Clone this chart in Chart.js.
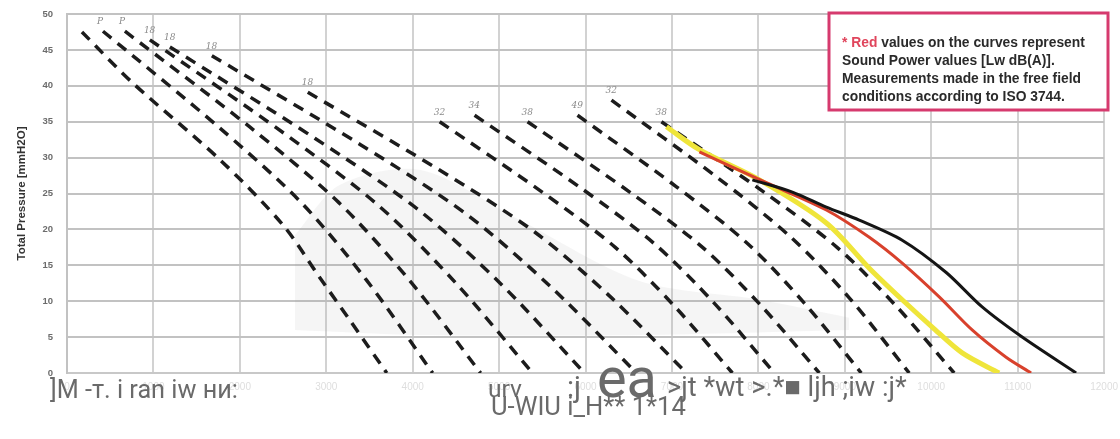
<!DOCTYPE html>
<html>
<head>
<meta charset="utf-8">
<script src="https://cdn.jsdelivr.net/npm/chart.js@4.4.1/dist/chart.umd.min.js"></script>
<style>
  html, body { margin: 0; padding: 0; background: #fff; }
  #fanChart { display: block; }
</style>
</head>
<body>
<canvas id="fanChart" width="1120" height="439"></canvas>
<script>
// axis ticks
const flowTicks = [0, 1000, 2000, 3000, 4000, 5000, 6000, 7000, 8000, 9000, 10000, 11000, 12000];
const pressureTicks = [0, 5, 10, 15, 20, 25, 30, 35, 40, 45, 50];

// dashed fan curves, [flow, pressure]
const dashedCurves = [
  [[173, 47.5], [760, 40.4], [1770, 29.7], [2500, 20.6], [2930, 13.2], [3270, 7.4], [3700, 0]],
  [[416, 47.6], [1751, 34.3], [2705, 23.8], [3468, 12.9], [4231, 0]],
  [[670, 47.6], [2111, 34.3], [3140, 23.8], [3963, 12.9], [4786, 0]],
  [[959, 46.4], [2509, 33.4], [3616, 23.2], [4501, 12.5], [5387, 0]],
  [[1191, 45.4], [2867, 32.7], [4069, 22.7], [5029, 12.3], [5988, 0]],
  [[1676, 44.2], [3396, 31.8], [4624, 22.1], [5607, 11.9], [6589, 0]],
  [[2786, 39.1], [4320, 28.2], [5415, 19.6], [6289, 10.6], [7167, 0]],
  [[4312, 35.0], [5498, 25.2], [6344, 17.5], [7022, 9.4], [7699, 0]],
  [[4716, 35.9], [5930, 25.9], [6797, 18.0], [7491, 9.7], [8184, 0]],
  [[5329, 35.0], [6511, 25.2], [7354, 17.5], [8030, 9.4], [8705, 0]],
  [[5907, 35.9], [7056, 25.9], [7877, 18.0], [8534, 9.7], [9190, 0]],
  [[6300, 38.0], [7506, 27.4], [8367, 19.0], [9056, 10.4], [9745, 0]],
  [[6878, 35.0], [8064, 25.2], [8910, 17.5], [9588, 9.4], [10265, 0]]
];
const curveLabels = ["", "P", "P", "18", "18", "18", "18", "32", "34", "38", "49", "32", "38"];

// solid curves
const yellowCurve = [[6936, 34.3], [7317, 31.1], [8011, 26.9], [8786, 20.9], [9283, 14.6], [9664, 10.2], [10011, 6.4], [10358, 2.8], [10785, 0]];
const redCurve = [[7317, 30.8], [8092, 26.5], [8786, 22.7], [9283, 18.9], [9664, 15.3], [10092, 10.6], [10473, 6.0], [10866, 2.2], [11155, 0]];
const blackCurve = [[7930, 26.9], [8393, 25.2], [8786, 23.1], [9167, 21.3], [9664, 18.5], [10173, 14.0], [10589, 9.2], [11052, 5.0], [11676, 0]];

// faded grey background patch
const shadeTop = [[2636, 19.2], [3156, 26.2], [4081, 28.3], [5237, 21.3], [6624, 12.8], [8011, 10.2], [9051, 7.7]];
const shadeBottom = [[2636, 6.0], [4081, 5.3], [6624, 5.3], [9051, 6.0]];

const noteLines = [
  "* Red values on the curves represent",
  "Sound Power values [Lw dB(A)].",
  "Measurements made in the free field",
  "conditions according to ISO 3744."
];

function pts(arr){
  return arr.map(p => ({x: p[0], y: p[1]}));
}

var datasets = [];
datasets.push({data: pts(blackCurve), borderColor: "#151515", borderWidth: 3});
datasets.push({data: pts(redCurve), borderColor: "#d8412c", borderWidth: 3});
datasets.push({data: pts(yellowCurve), borderColor: "#efe53a", borderWidth: 5});
dashedCurves.forEach((c) => {
  datasets.push({data: pts(c), borderColor: "#1c1c1c", borderWidth: 3.5, borderDash: [11, 8]});
});
datasets.push({data: pts(shadeTop), borderWidth: 0, borderColor: "rgba(0,0,0,0)", fill: "+1", backgroundColor: "rgba(140,140,140,0.09)"});
datasets.push({data: pts(shadeBottom), borderWidth: 0, borderColor: "rgba(0,0,0,0)"});

// text drawn to a given width
function fitText(ctx, text, x, y, width, family, weight, color){
  ctx.font = weight + " 20px " + family;
  var size = 20 * width / ctx.measureText(text).width;
  ctx.font = weight + " " + size + "px " + family;
  ctx.fillStyle = color;
  ctx.fillText(text, x, y);
}

const overlayPlugin = {
  id: "overlay",
  afterDraw: (chart) => {
    const {ctx} = chart;
    const xs = chart.scales.x, ys = chart.scales.y;
    ctx.save();
    // labels at curve starts
    ctx.font = "italic 9px 'DejaVu Serif'";
    ctx.fillStyle = "#8a8a8a";
    ctx.textBaseline = "alphabetic";
    dashedCurves.forEach((c, i) => {
      if (!curveLabels[i]) return;
      ctx.fillText(curveLabels[i], xs.getPixelForValue(c[0][0]) - 6, ys.getPixelForValue(c[0][1]) - 7);
    });

    // note box
    ctx.fillStyle = "#ffffff";
    ctx.fillRect(829, 13, 279, 97);
    ctx.strokeStyle = "#d63a6e";
    ctx.lineWidth = 3;
    ctx.strokeRect(829, 13, 279, 97);
    ctx.font = "bold 20px 'Liberation Sans'";
    var size = 20 * 243 / ctx.measureText(noteLines[0]).width;
    ctx.font = "bold " + size + "px 'Liberation Sans'";
    noteLines.forEach((line, i) => {
      var y = 47 + i * 18;
      if (i === 0) {
        var lead = "* Red";
        ctx.fillStyle = "#e0455c";
        ctx.fillText(lead, 842, y);
        var w = ctx.measureText(lead).width;
        ctx.fillStyle = "#2a2a2a";
        ctx.fillText(line.slice(5), 842 + w, y);
      } else {
        ctx.fillStyle = "#2a2a2a";
        ctx.fillText(line, 842, y);
      }
    });

    // scanned text under the axis
    fitText(ctx, "]M -т. i ran iw ни:", 50, 398, 188, "Roboto", "normal", "#6a6a6a");
    fitText(ctx, "urv", 488, 397, 34, "Roboto", "normal", "#6a6a6a");
    fitText(ctx, ":j", 567, 397, 14, "Roboto", "normal", "#6a6a6a");
    fitText(ctx, "ea", 597, 397, 60, "Roboto", "normal", "#6a6a6a");
    fitText(ctx, ">jt *wt >.*\u25A0 ljh ;iw :j*", 667, 396, 240, "Roboto", "normal", "#6a6a6a");
    fitText(ctx, "U-WIU i_H** 1*14", 491, 415, 195, "Roboto", "normal", "#6a6a6a");
    ctx.restore();
  }
};

new Chart(document.getElementById("fanChart"), {
  type: "line",
  data: {datasets: datasets},
  options: {
    responsive: false,
    animation: false,
    layout: {padding: {top: 14, right: 15, left: 0, bottom: 0}},
    elements: {
      point: {radius: 0},
      line: {tension: 0.3, fill: false, borderCapStyle: "butt"}
    },
    plugins: {
      legend: {display: false},
      tooltip: {enabled: false}
    },
    scales: {
      x: {
        type: "linear",
        min: 0,
        max: 12000,
        afterFit: (s) => { s.height = 66; },
        afterBuildTicks: (s) => { s.ticks = flowTicks.map(v => ({value: v})); },
        grid: {color: "#d2d2d2", lineWidth: 2, drawTicks: true, tickLength: 6, tickColor: "rgba(0,0,0,0)"},
        border: {color: "#c8c8c8", width: 2},
        ticks: {padding: 2, color: "#dedede", font: {size: 10, family: "Liberation Sans"}, maxRotation: 0,
          callback: (v) => String(v)}
      },
      y: {
        min: 0,
        max: 50,
        afterFit: (s) => { s.width = 67; },
        afterBuildTicks: (s) => { s.ticks = pressureTicks.map(v => ({value: v})); },
        grid: {color: "#c2c2c2", lineWidth: 2, drawTicks: true, tickLength: 11, tickColor: "rgba(0,0,0,0)"},
        border: {color: "#c2c2c2", width: 2},
        ticks: {padding: 3, color: "#6c6c6c", font: {size: 9.5, weight: "bold", family: "Liberation Sans"}},
        title: {
          display: true,
          text: "Total Pressure [mmH2O]",
          color: "#333",
          font: {size: 11.5, weight: "bold", family: "Liberation Sans"},
          padding: {top: 15, bottom: 0}
        }
      }
    }
  },
  plugins: [overlayPlugin]
});
</script>
</body>
</html>
